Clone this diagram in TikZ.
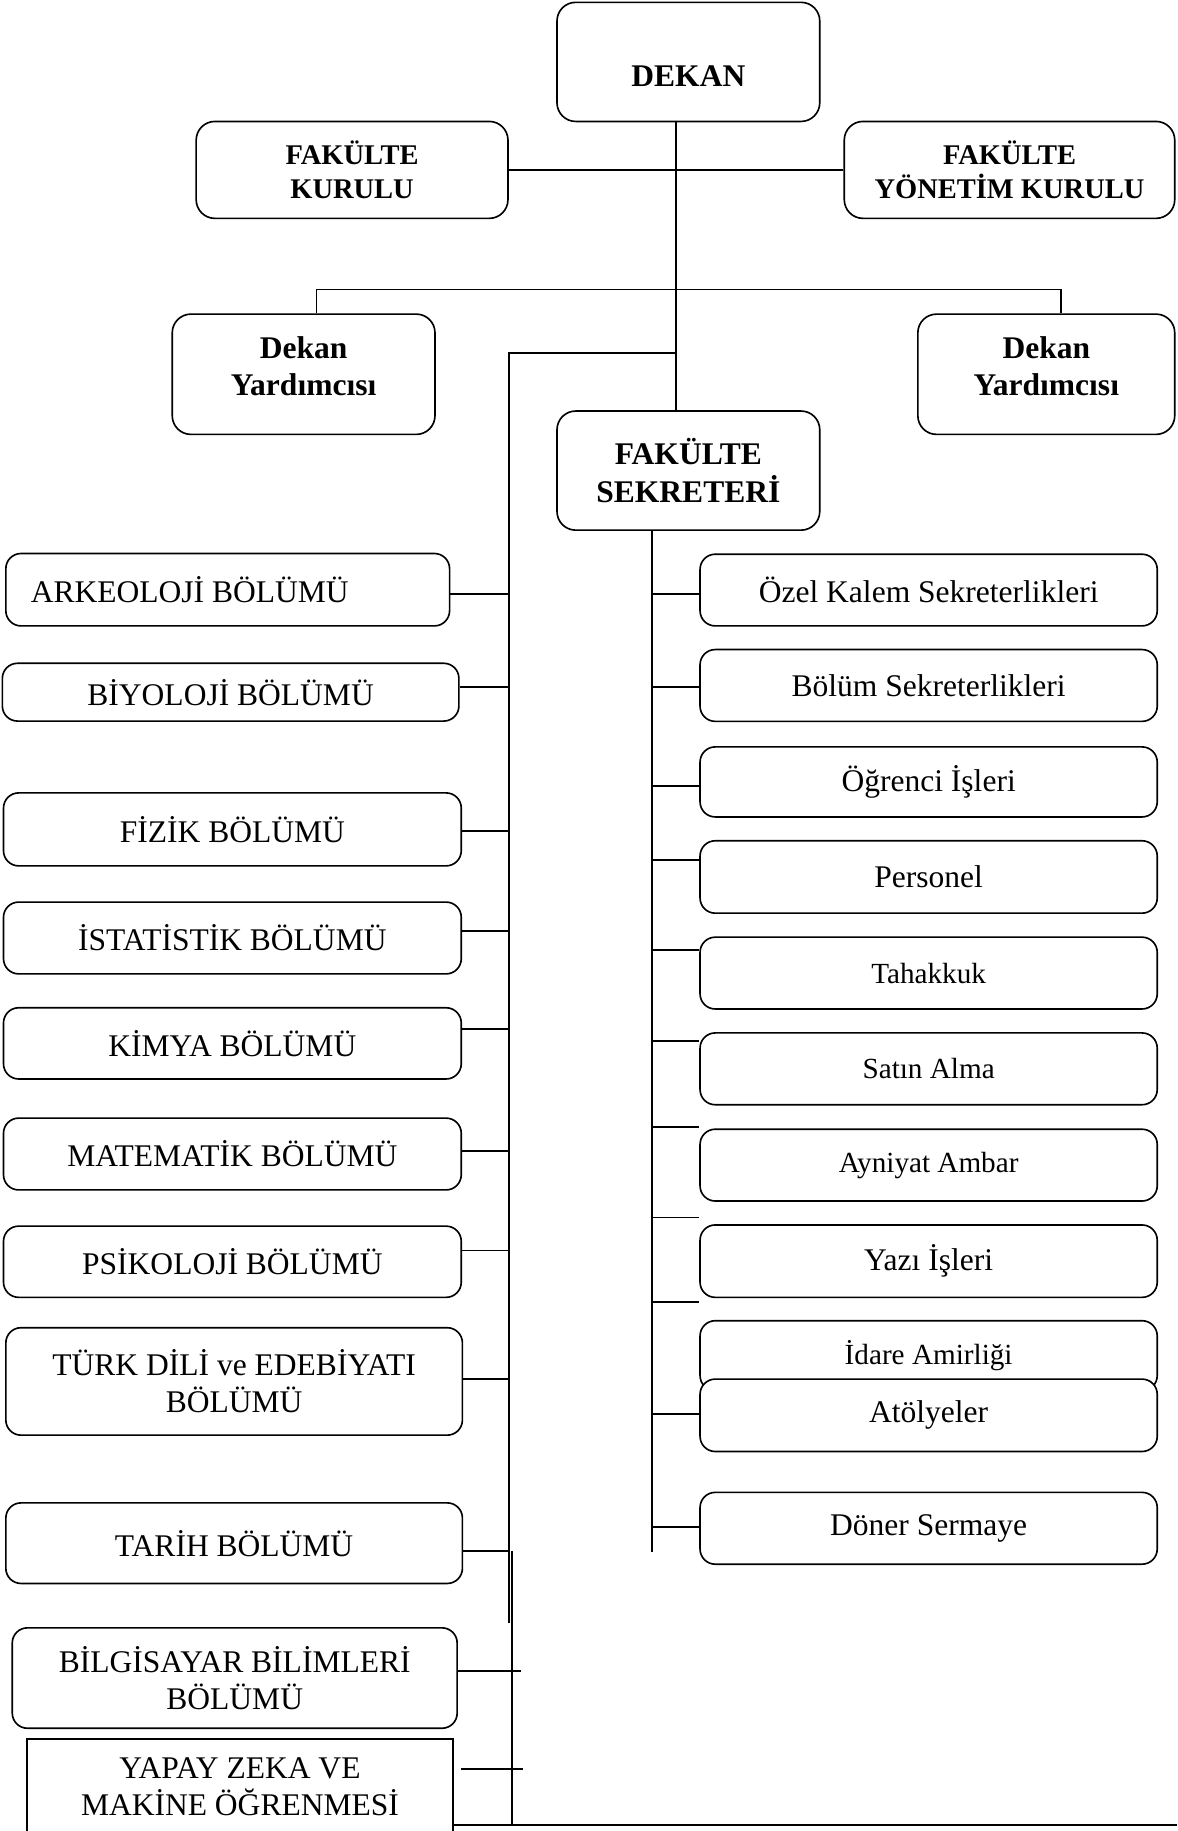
\documentclass[tikz,border=0pt]{standalone}
\usepackage{fontspec}
\setmainfont{Liberation Serif}
\usepackage{tikz}
\usetikzlibrary{calc}

\begin{document}
\begin{tikzpicture}[
    x=0.5pt, y=-0.5pt,
    unit/.style={
        draw, rounded corners=6.5pt, line width=0.7pt, inner sep=2pt,
        align=center, minimum height=30.75pt,
        font=\fontsize{13.5}{16}\selectfont
    },
    lead/.style={unit, rounded corners=8pt, font=\fontsize{13.5}{16}\selectfont\bfseries},
    council/.style={lead, font=\fontsize{12.2}{14.5}\selectfont\bfseries},
    dept/.style={unit, minimum width=196pt},
    office/.style={unit, fill=white, minimum width=195.75pt},
    small/.style={font=\fontsize{12.5}{15}\selectfont},
    link/.style={line width=0.7pt}
]
\useasboundingbox (0,0) rectangle (1008,1568);
\clip (0,0) rectangle (1008,1568);

% Top of the chart
\node[lead, minimum width=112.5pt, minimum height=51pt] (dekan) at (589.5,53) {\raisebox{-6.25pt}[\height][\depth]{DEKAN}};
\node[council, minimum width=133.5pt, minimum height=41.5pt] (kurulu) at (301.5,145.5) {FAKÜLTE\\KURULU};
\node[council, minimum width=141.5pt, minimum height=41.5pt] (yonetim) at (864.5,145.5) {FAKÜLTE\\YÖNETİM KURULU};
\node[lead, minimum width=112.5pt, minimum height=51.5pt] (yardL) at (260,320.5) {\raisebox{2pt}[\height][\depth]{\begin{tabular}{@{}c@{}}Dekan\\Yardımcısı\end{tabular}}};
\node[lead, minimum width=110pt, minimum height=51.5pt] (yardR) at (896,320.5) {\raisebox{2pt}[\height][\depth]{\begin{tabular}{@{}c@{}}Dekan\\Yardımcısı\end{tabular}}};
\node[lead, minimum width=112.5pt, minimum height=51pt] (sekr) at (589.5,403) {FAKÜLTE\\SEKRETERİ};

% Departments (left)
\node[dept, minimum width=190pt, minimum height=31pt] (arke) at (195,505) {\hspace*{-32.5pt}ARKEOLOJİ BÖLÜMÜ};
\node[dept, minimum width=195.5pt, minimum height=24.75pt] (biyo) at (197.5,592.75) {BİYOLOJİ BÖLÜMÜ};
\node[dept, minimum height=31.25pt] (fizik) at (199,710.25) {FİZİK BÖLÜMÜ};
\node[dept] (istat) at (199,803.25) {İSTATİSTİK BÖLÜMÜ};
\node[dept, minimum height=30.5pt] (kimya) at (199,893.5) {KİMYA BÖLÜMÜ};
\node[dept] (matem) at (199,988.25) {MATEMATİK BÖLÜMÜ};
\node[dept, minimum height=30.5pt] (psiko) at (199,1080.5) {PSİKOLOJİ BÖLÜMÜ};
\node[dept, minimum width=195.5pt, minimum height=46pt] (turk) at (200.5,1183) {TÜRK DİLİ ve EDEBİYATI\\BÖLÜMÜ};
\node[dept, minimum width=195.5pt, minimum height=34.5pt] (tarih) at (200.5,1321.5) {TARİH BÖLÜMÜ};
\node[dept, minimum width=190.5pt, minimum height=43pt] (bilg) at (201,1437) {BİLGİSAYAR BİLİMLERİ\\BÖLÜMÜ};
\node[dept, sharp corners, minimum width=182.5pt, minimum height=41pt] (yapay) at (205.5,1530) {YAPAY ZEKA VE\\MAKİNE ÖĞRENMESİ};

% Offices (right)
\node[office, minimum height=30.7pt] (ozel) at (795.25,505.3) {Özel Kalem Sekreterlikleri};
\node[office] (bolum) at (795.25,587) {Bölüm Sekreterlikleri};
\node[office, minimum height=30pt] (ogrenci) at (795.25,669.6) {Öğrenci İşleri};
\node[office, minimum height=31pt] (personel) at (795.25,751) {Personel};
\node[office, small] (tahakkuk) at (795.25,833.3) {Tahakkuk};
\node[office, small] (satin) at (795.25,915.3) {Satın Alma};
\node[office, small] (ayniyat) at (795.25,997.75) {Ayniyat Ambar};
\node[office, minimum height=31pt] (yazi) at (795.25,1080) {Yazı İşleri};
\node[office, small, minimum height=30pt] (idare) at (795.25,1161) {İdare Amirliği};
\node[office, minimum height=31pt] (atolye) at (795.25,1212) {Atölyeler};
\node[office] (doner) at (795.25,1308.75) {Döner Sermaye};

% Bus lines
\coordinate (spine) at (579,0);
\coordinate (lbus) at (436,1390);
\coordinate (lbus2) at (438.5,1328);
\coordinate (rbus) at (558.5,1329);
\coordinate (edge) at (1008,1563);

\draw[link] (dekan.south -| spine) -- (sekr.north -| spine);
\draw[link] (kurulu.east) -- (yonetim.west);
\draw[link] ([xshift=5.5pt]yardL.north) |- (spine |- 0,248) -| ([xshift=6.3pt]yardR.north);
\draw[link] (spine |- 0,302.5) -| (lbus);
\draw[link] (lbus2) -- (lbus2 |- edge);
\draw[link] (sekr.south -| rbus) -- (rbus);
\draw[line width=1pt] (yapay.east |- edge) -- (edge);

% Branches
\foreach \n/\y in {arke/508.5, biyo/588.5, fizik/711.5, istat/797, kimya/881, matem/985.6, psiko/1071, turk/1181, tarih/1328}
    \draw[link] (\n.east |- 0,\y) -- (lbus |- 0,\y);
\draw[link] (bilg.east |- 0,1431) -- ++(54,0);
\draw[link] ([xshift=3pt]yapay.east |- 0,1515) -- ++(53,0);

\foreach \n/\y in {ozel/508.6, bolum/588.5, ogrenci/673, personel/736.5, tahakkuk/813.6, satin/891.5, ayniyat/965, yazi/1042.5, yazi/1115, atolye/1211, doner/1307.6}
    \draw[link] (rbus |- 0,\y) -- (\n.west |- 0,\y);

\end{tikzpicture}
\end{document}
